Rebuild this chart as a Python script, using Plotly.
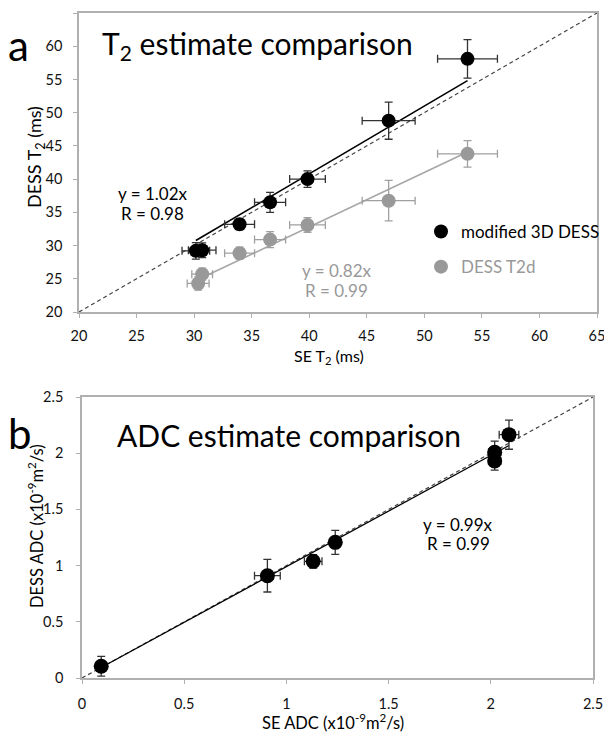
import plotly.graph_objects as go

# ---------------- Panel a: T2 ----------------
se_t2 = [30.15, 30.7, 33.95, 36.6, 39.85, 46.9, 53.75]
dess_t2_mod = [29.2, 29.3, 33.2, 36.5, 40.0, 48.8, 58.1]
dess_t2_mod_yerr = [1.25, 1.1, 0.8, 1.5, 1.25, 2.8, 2.9]
se_t2_xerr = [1.2, 1.2, 1.3, 1.35, 1.55, 2.3, 2.6]

se_t2_d = [30.35, 30.7, 33.95, 36.6, 39.85, 46.9, 53.75]
dess_t2d = [24.3, 25.7, 28.85, 30.9, 33.1, 36.75, 43.8]
dess_t2d_yerr = [1.0, 0.9, 0.9, 1.2, 1.1, 3.05, 2.0]
se_t2d_xerr = [0.95, 0.9, 1.3, 1.35, 1.55, 2.3, 2.6]

slope_t2_mod = 1.02
slope_t2d = 0.82
t2_range = [20, 65]
t2_ticks = [20, 25, 30, 35, 40, 45, 50, 55, 60, 65]

# ---------------- Panel b: ADC ----------------
se_adc = [0.094, 0.907, 1.131, 1.239, 2.019, 2.019, 2.089]
dess_adc = [0.104, 0.91, 1.038, 1.207, 2.008, 1.930, 2.165]
dess_adc_yerr = [0.088, 0.145, 0.06, 0.107, 0.1, 0.08, 0.13]
se_adc_xerr = [0.02, 0.063, 0.043, 0.02, 0.03, 0.03, 0.048]
slope_adc = 0.99
adc_range = [0, 2.5]
adc_ticks = [0, 0.5, 1, 1.5, 2, 2.5]

FONT = "Lato"
BLACK = "#000000"
GRAY = "#999999"
AXIS = "#b0b0b0"

# the page body has an 8px margin: the figure is drawn from (8, 8) in the window
OFF = 8
W, H = 612 - OFF, 739 - OFF


def px(xp):
    return (xp - OFF) / W


def py(yp):
    return 1 - (yp - OFF) / H


fig = go.Figure()

# identity lines
dash = "4px,3px"
fig.add_trace(go.Scatter(x=t2_range, y=t2_range, mode="lines", xaxis="x", yaxis="y",
                         line=dict(color="#444444", width=1.2, dash=dash), showlegend=False,
                         hoverinfo="skip"))
fig.add_trace(go.Scatter(x=adc_range, y=adc_range, mode="lines", xaxis="x2", yaxis="y2",
                         line=dict(color="#444444", width=1.2, dash=dash), showlegend=False,
                         hoverinfo="skip"))


# trend lines
def fit_line(xs, slope):
    x0, x1 = min(xs), max(xs)
    return [x0, x1], [slope * x0, slope * x1]


lx, ly = fit_line(se_t2_d, slope_t2d)
fig.add_trace(go.Scatter(x=lx, y=ly, mode="lines", xaxis="x", yaxis="y",
                         line=dict(color="#a6a6a6", width=1.6), showlegend=False, hoverinfo="skip"))
lx, ly = fit_line(se_t2, slope_t2_mod)
fig.add_trace(go.Scatter(x=lx, y=ly, mode="lines", xaxis="x", yaxis="y",
                         line=dict(color=BLACK, width=1.6), showlegend=False, hoverinfo="skip"))
lx, ly = fit_line(se_adc, slope_adc)
fig.add_trace(go.Scatter(x=lx, y=ly, mode="lines", xaxis="x2", yaxis="y2",
                         line=dict(color=BLACK, width=1.3), showlegend=False, hoverinfo="skip"))

# data points
fig.add_trace(go.Scatter(
    x=se_t2_d, y=dess_t2d, mode="markers", xaxis="x", yaxis="y",
    name="<span style='color:#999999'>DESS T2d</span>", legendgroup="g2", legendrank=2,
    marker=dict(color=GRAY, size=14),
    error_x=dict(type="data", array=se_t2d_xerr, color="#a0a0a0", thickness=1.3, width=4),
    error_y=dict(type="data", array=dess_t2d_yerr, color="#a0a0a0", thickness=1.3, width=4)))
fig.add_trace(go.Scatter(
    x=se_t2, y=dess_t2_mod, mode="markers", xaxis="x", yaxis="y",
    name="modified 3D DESS", legendgroup="g1", legendrank=1,
    marker=dict(color=BLACK, size=14),
    error_x=dict(type="data", array=se_t2_xerr, color="#333333", thickness=1.3, width=4),
    error_y=dict(type="data", array=dess_t2_mod_yerr, color="#333333", thickness=1.3, width=4)))
fig.add_trace(go.Scatter(
    x=se_adc, y=dess_adc, mode="markers", xaxis="x2", yaxis="y2", showlegend=False,
    marker=dict(color=BLACK, size=15),
    error_x=dict(type="data", array=se_adc_xerr, color="#333333", thickness=1.3, width=4),
    error_y=dict(type="data", array=dess_adc_yerr, color="#333333", thickness=1.3, width=4)))

axis_common = dict(showgrid=False, zeroline=False, showline=True, mirror=True,
                   linecolor=AXIS, linewidth=1.5, ticks="outside", ticklen=4,
                   tickcolor=AXIS, tickwidth=1.2, automargin=False,
                   tickfont=dict(family=FONT, size=14.5, color="#111111"))

fig.update_layout(
    width=W, height=H,
    margin=dict(l=0, r=0, t=0, b=0),
    paper_bgcolor="white", plot_bgcolor="white",
    font=dict(family=FONT, color="#111111"),
    xaxis=dict(domain=[px(79), px(597)], range=t2_range, tickvals=t2_ticks,
               anchor="y", ticklabelstandoff=6, **axis_common),
    yaxis=dict(domain=[py(312), py(13)], range=t2_range, tickvals=t2_ticks,
               anchor="x", ticklabelstandoff=8, **axis_common),
    xaxis2=dict(domain=[px(82), px(593)], range=adc_range, tickvals=adc_ticks,
                ticktext=[str(v) for v in adc_ticks],
                anchor="y2", ticklabelstandoff=8, **axis_common),
    yaxis2=dict(domain=[py(678), py(397)], range=adc_range, tickvals=adc_ticks,
                ticktext=[str(v) for v in adc_ticks],
                anchor="x2", ticklabelstandoff=10, **axis_common),
    showlegend=True,
    legend=dict(x=px(421), y=py(214), xanchor="left", yanchor="top",
                bgcolor="rgba(0,0,0,0)", font=dict(family=FONT, size=17, color=BLACK),
                traceorder="grouped", tracegroupgap=10, itemclick=False),
)

ann = []


def text(x, y, s, size, color="#000000", xref="paper", yref="paper", xanchor="center", angle=0):
    ann.append(dict(x=x, y=y, xref=xref, yref=yref, text=s, showarrow=False,
                    xanchor=xanchor, yanchor="middle", textangle=angle,
                    font=dict(family=FONT, size=size, color=color)))


# panel labels and titles
text(px(18), py(45), "a", 42)
text(px(100), py(45), "T<sub>2</sub> estimate comparison", 30, xanchor="left")
text(px(20), py(433), "b", 42)
text(px(115), py(435), "ADC estimate comparison", 30, xanchor="left")

# axis titles
text(px(329), py(356), "SE T<sub>2</sub> (ms)", 16)
text(px(35), py(157), "DESS T<sub>2</sub> (ms)", 18, angle=-90)
text(px(333), py(722), "SE ADC (x10<sup>-9</sup>m<sup>2</sup>/s)", 16.5)
text(px(36), py(526), "DESS ADC (x10<sup>-9</sup>m<sup>2</sup>/s)", 16.5, angle=-90)

# equations
text(26.4, 37.9, "y = 1.02x", 17, xref="x", yref="y")
text(26.4, 34.9, "R = 0.98", 17, xref="x", yref="y")
text(42.4, 26.3, "y = 0.82x", 17, color="#999999", xref="x", yref="y")
text(42.4, 23.2, "R = 0.99", 17, color="#999999", xref="x", yref="y")
text(1.84, 1.37, "y = 0.99x", 17, xref="x2", yref="y2")
text(1.84, 1.20, "R = 0.99", 17, xref="x2", yref="y2")

fig.update_layout(annotations=ann)
fig.write_html("out.html")
